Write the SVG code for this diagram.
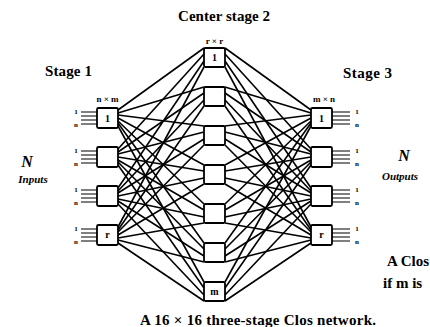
<svg xmlns="http://www.w3.org/2000/svg" width="430" height="327" viewBox="0 0 430 327">
<style>
.bx{fill:#fff;stroke:#000;stroke-width:1.8}
.ln{stroke:#000;stroke-width:1.6;fill:none}
.io{stroke:#000;stroke-width:1.2}
.t{font-family:"Liberation Serif",serif;font-weight:bold;fill:#000}
.s{font-size:7px}
.lb{font-size:9px}
.in{font-size:10px;text-anchor:middle}
.it{font-family:"Liberation Serif",serif;font-style:italic;font-weight:bold;fill:#000}
</style>
<rect width="430" height="327" fill="#fff"/>
<text class="t" x="178" y="21" font-size="15" textLength="92">Center stage 2</text>
<text class="t" x="45" y="76" font-size="15" textLength="47">Stage 1</text>
<text class="t" x="343" y="78" font-size="15" textLength="49">Stage 3</text>
<text class="t lb" x="214.5" y="44" text-anchor="middle">r × r</text>
<text class="t lb" x="107.5" y="102" text-anchor="middle">n × m</text>
<text class="t lb" x="324" y="102" text-anchor="middle">m × n</text>
<text class="it" x="27" y="167" font-size="16" text-anchor="middle">N</text>
<text class="it" x="33" y="183" font-size="11" text-anchor="middle">Inputs</text>
<text class="it" x="404" y="161" font-size="16" text-anchor="middle">N</text>
<text class="it" x="400" y="180" font-size="11" text-anchor="middle">Outputs</text>
<text class="t" x="387" y="266" font-size="15">A Clos</text>
<text class="t" x="383" y="288" font-size="15">if m is</text>
<text class="t" x="140" y="325" font-size="15" textLength="236">A 16 × 16 three-stage Clos network.</text>
<g id="connectors">
<line class="ln" x1="118" y1="110" x2="204" y2="48"/>
<line class="ln" x1="118" y1="113" x2="204" y2="87"/>
<line class="ln" x1="118" y1="115" x2="204" y2="126"/>
<line class="ln" x1="118" y1="118" x2="204" y2="165"/>
<line class="ln" x1="118" y1="121" x2="204" y2="204"/>
<line class="ln" x1="118" y1="123" x2="204" y2="243"/>
<line class="ln" x1="118" y1="126" x2="204" y2="282"/>
<line class="ln" x1="118" y1="149" x2="204" y2="54"/>
<line class="ln" x1="118" y1="152" x2="204" y2="93"/>
<line class="ln" x1="118" y1="154" x2="204" y2="132"/>
<line class="ln" x1="118" y1="157" x2="204" y2="171"/>
<line class="ln" x1="118" y1="160" x2="204" y2="210"/>
<line class="ln" x1="118" y1="162" x2="204" y2="249"/>
<line class="ln" x1="118" y1="165" x2="204" y2="288"/>
<line class="ln" x1="118" y1="188" x2="204" y2="61"/>
<line class="ln" x1="118" y1="191" x2="204" y2="100"/>
<line class="ln" x1="118" y1="193" x2="204" y2="139"/>
<line class="ln" x1="118" y1="196" x2="204" y2="178"/>
<line class="ln" x1="118" y1="199" x2="204" y2="217"/>
<line class="ln" x1="118" y1="201" x2="204" y2="256"/>
<line class="ln" x1="118" y1="204" x2="204" y2="295"/>
<line class="ln" x1="118" y1="227" x2="204" y2="67"/>
<line class="ln" x1="118" y1="230" x2="204" y2="106"/>
<line class="ln" x1="118" y1="232" x2="204" y2="145"/>
<line class="ln" x1="118" y1="235" x2="204" y2="184"/>
<line class="ln" x1="118" y1="238" x2="204" y2="223"/>
<line class="ln" x1="118" y1="240" x2="204" y2="262"/>
<line class="ln" x1="118" y1="243" x2="204" y2="301"/>
<line class="ln" x1="311" y1="110" x2="225" y2="48"/>
<line class="ln" x1="311" y1="113" x2="225" y2="87"/>
<line class="ln" x1="311" y1="115" x2="225" y2="126"/>
<line class="ln" x1="311" y1="118" x2="225" y2="165"/>
<line class="ln" x1="311" y1="121" x2="225" y2="204"/>
<line class="ln" x1="311" y1="123" x2="225" y2="243"/>
<line class="ln" x1="311" y1="126" x2="225" y2="282"/>
<line class="ln" x1="311" y1="149" x2="225" y2="54"/>
<line class="ln" x1="311" y1="152" x2="225" y2="93"/>
<line class="ln" x1="311" y1="154" x2="225" y2="132"/>
<line class="ln" x1="311" y1="157" x2="225" y2="171"/>
<line class="ln" x1="311" y1="160" x2="225" y2="210"/>
<line class="ln" x1="311" y1="162" x2="225" y2="249"/>
<line class="ln" x1="311" y1="165" x2="225" y2="288"/>
<line class="ln" x1="311" y1="188" x2="225" y2="61"/>
<line class="ln" x1="311" y1="191" x2="225" y2="100"/>
<line class="ln" x1="311" y1="193" x2="225" y2="139"/>
<line class="ln" x1="311" y1="196" x2="225" y2="178"/>
<line class="ln" x1="311" y1="199" x2="225" y2="217"/>
<line class="ln" x1="311" y1="201" x2="225" y2="256"/>
<line class="ln" x1="311" y1="204" x2="225" y2="295"/>
<line class="ln" x1="311" y1="227" x2="225" y2="67"/>
<line class="ln" x1="311" y1="230" x2="225" y2="106"/>
<line class="ln" x1="311" y1="232" x2="225" y2="145"/>
<line class="ln" x1="311" y1="235" x2="225" y2="184"/>
<line class="ln" x1="311" y1="238" x2="225" y2="223"/>
<line class="ln" x1="311" y1="240" x2="225" y2="262"/>
<line class="ln" x1="311" y1="243" x2="225" y2="301"/>
</g>
<g id="s1-1"><rect class="bx" x="97" y="108" width="21" height="20" rx="1.5"/><text class="t in" x="107.5" y="122">1</text>
<path class="io" d="M81 112H97M81 116H97M81 120H97M81 124H97"/><text class="t s" x="76" y="114" text-anchor="middle">1</text><text class="t s" x="76" y="127" text-anchor="middle">n</text></g>
<g id="s1-2"><rect class="bx" x="97" y="147" width="21" height="20" rx="1.5"/>
<path class="io" d="M81 151H97M81 155H97M81 159H97M81 163H97"/><text class="t s" x="76" y="153" text-anchor="middle">1</text><text class="t s" x="76" y="166" text-anchor="middle">n</text></g>
<g id="s1-3"><rect class="bx" x="97" y="186" width="21" height="20" rx="1.5"/>
<path class="io" d="M81 190H97M81 194H97M81 198H97M81 202H97"/><text class="t s" x="76" y="192" text-anchor="middle">1</text><text class="t s" x="76" y="205" text-anchor="middle">n</text></g>
<g id="s1-r"><rect class="bx" x="97" y="225" width="21" height="20" rx="1.5"/><text class="t in" x="107.5" y="238">r</text>
<path class="io" d="M81 229H97M81 233H97M81 237H97M81 241H97"/><text class="t s" x="76" y="231" text-anchor="middle">1</text><text class="t s" x="76" y="244" text-anchor="middle">n</text></g>
<g id="c-1"><rect class="bx" x="204" y="48" width="21" height="19" rx="1.5"/><text class="t in" x="214.5" y="61">1</text></g>
<g id="c-2"><rect class="bx" x="204" y="87" width="21" height="19" rx="1.5"/></g>
<g id="c-3"><rect class="bx" x="204" y="126" width="21" height="19" rx="1.5"/></g>
<g id="c-4"><rect class="bx" x="204" y="165" width="21" height="19" rx="1.5"/></g>
<g id="c-5"><rect class="bx" x="204" y="204" width="21" height="19" rx="1.5"/></g>
<g id="c-6"><rect class="bx" x="204" y="243" width="21" height="19" rx="1.5"/></g>
<g id="c-m"><rect class="bx" x="204" y="282" width="21" height="19" rx="1.5"/><text class="t in" x="214.5" y="295">m</text></g>
<g id="s3-1"><rect class="bx" x="311" y="108" width="21" height="20" rx="1.5"/><text class="t in" x="321.5" y="122">1</text>
<path class="io" d="M332 112H350M332 116H350M332 120H350M332 124H350"/><text class="t s" x="357" y="114" text-anchor="middle">1</text><text class="t s" x="357" y="127" text-anchor="middle">n</text></g>
<g id="s3-2"><rect class="bx" x="311" y="147" width="21" height="20" rx="1.5"/>
<path class="io" d="M332 151H350M332 155H350M332 159H350M332 163H350"/><text class="t s" x="357" y="153" text-anchor="middle">1</text><text class="t s" x="357" y="166" text-anchor="middle">n</text></g>
<g id="s3-3"><rect class="bx" x="311" y="186" width="21" height="20" rx="1.5"/>
<path class="io" d="M332 190H350M332 194H350M332 198H350M332 202H350"/><text class="t s" x="357" y="192" text-anchor="middle">1</text><text class="t s" x="357" y="205" text-anchor="middle">n</text></g>
<g id="s3-r"><rect class="bx" x="311" y="225" width="21" height="20" rx="1.5"/><text class="t in" x="321.5" y="238">r</text>
<path class="io" d="M332 229H350M332 233H350M332 237H350M332 241H350"/><text class="t s" x="357" y="231" text-anchor="middle">1</text><text class="t s" x="357" y="244" text-anchor="middle">n</text></g>
</svg>
